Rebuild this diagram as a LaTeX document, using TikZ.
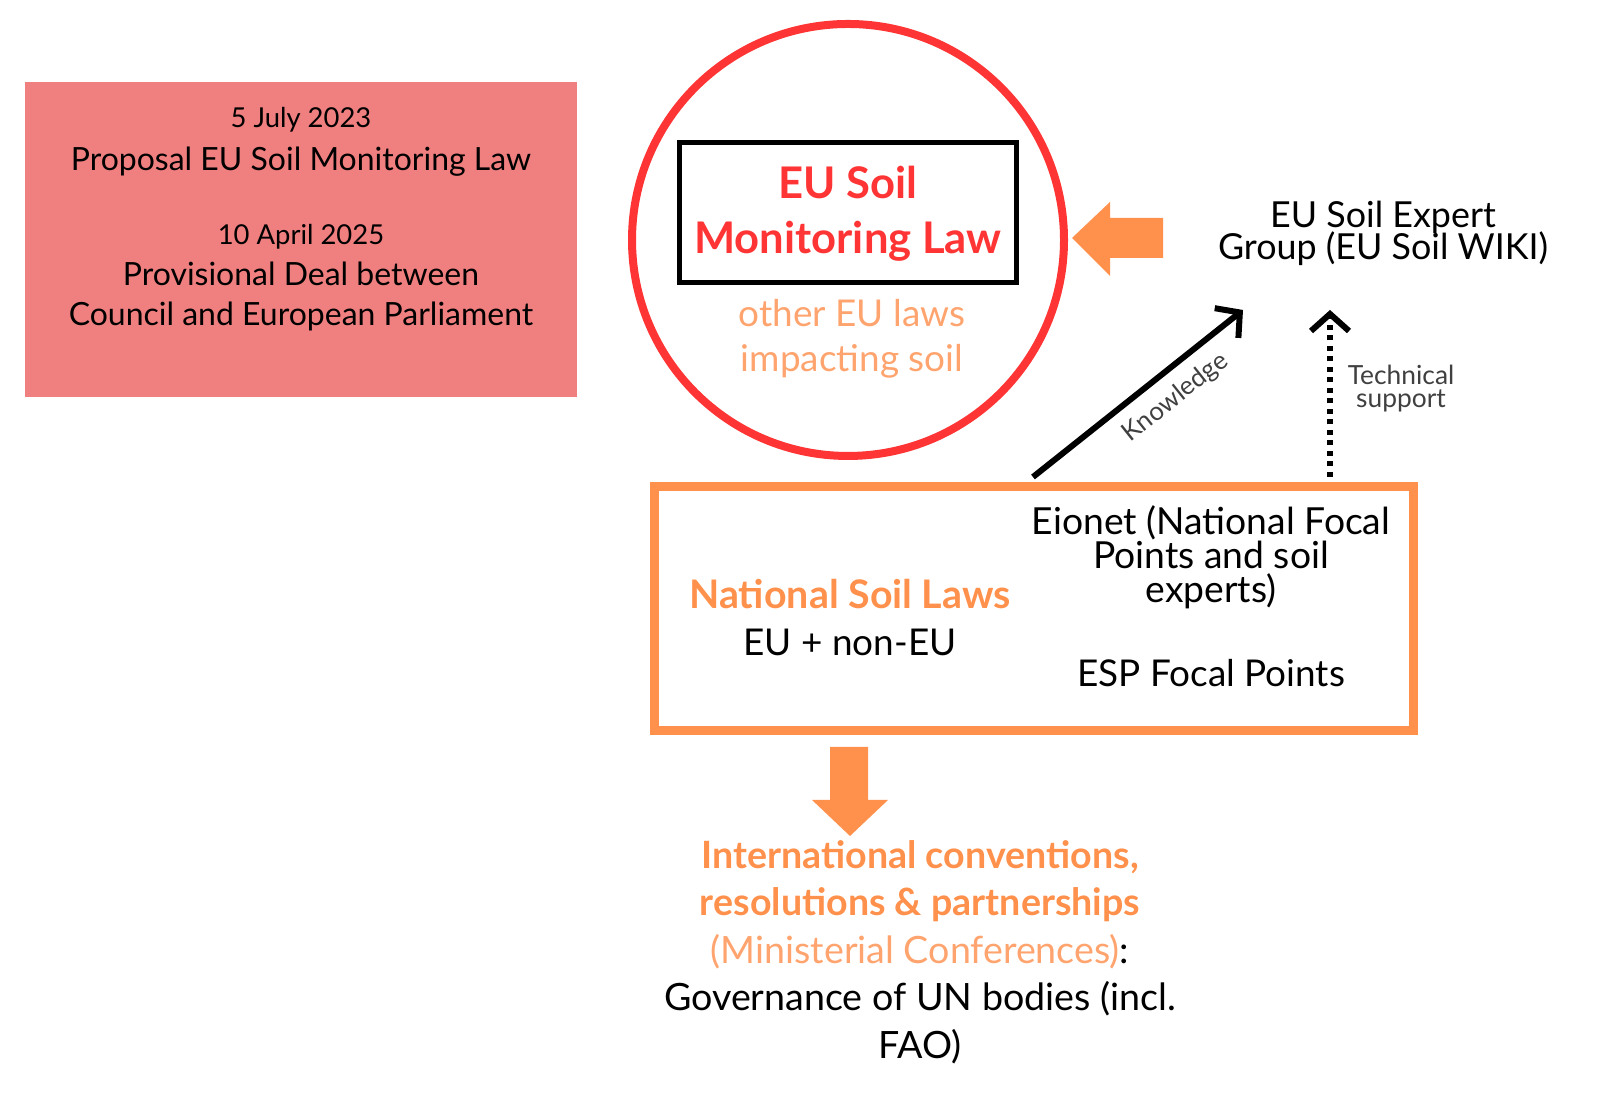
\documentclass[tikz,border=0pt]{standalone}
\usepackage{fontspec}
\setmainfont{Lato}
\usetikzlibrary{arrows.meta}

\definecolor{boxred}{HTML}{F07F7F}
\definecolor{ringred}{HTML}{FF3434}
\definecolor{soilorange}{HTML}{FF914D}
\definecolor{paleorange}{HTML}{FFA46E}

\begin{document}
\begin{tikzpicture}
	[
	align=center,
	node/.style={inner sep=0pt},
	frame/.style={node, draw, minimum width=#1},
	arr/.style={line width=0.06cm, -{Straight Barb[length=1.7mm, width=3.8mm, line width=0.06cm]}},
	blockarrow/.style={fill=soilorange, draw=none},
	]
		\useasboundingbox (0,0) rectangle (16,11.04);
		
		% timeline
		\node[frame=5.52cm, fill=boxred, draw=none, minimum height=3.15cm] (timeline) at ( 3.01, 8.645) {};
		\node[node, font=\fontsize{9.1}{12.3}\selectfont] (proposal) at ( 3.01, 9.62) {{\fontsize{7.8}{9}\selectfont 5 July 2023}\\Proposal EU Soil Monitoring Law};
		\node[node, font=\fontsize{9.1}{11.5}\selectfont] (deal) at ( 3.01, 8.26) {{\fontsize{7.8}{9}\selectfont 10 April 2025}\\Provisional Deal between\\Council and European Parliament};
		
		% soil monitoring law
		\node[node, circle, draw=ringred, line width=0.08cm, minimum size=4.32cm] (ring) at ( 8.48, 8.64) {};
		\node[frame=3.37cm, line width=0.05cm, minimum height=1.40cm] (lawbox) at ( 8.48, 8.915) {};
		\node[node, text=ringred, font=\bfseries\fontsize{12.4}{15.8}\selectfont] (law) at ( 8.48, 8.90) {EU Soil\\Monitoring Law};
		\node[node, text=paleorange, font=\fontsize{10.5}{12.8}\selectfont] (other) at ( 8.52, 7.655) {other EU laws\\impacting soil};
		
		% expert group
		\node[node, font=\fontsize{10.2}{9.5}\selectfont] (expert) at (13.83, 8.71) {EU Soil Expert\\[-1.6pt]Group (EU Soil WIKI)};
		\fill[blockarrow] (11.63, 8.86) -- (11.10, 8.86) -- (11.10, 9.02) -- (10.72, 8.66)
			-- (11.10, 8.28) -- (11.10, 8.46) -- (11.63, 8.46) -- cycle;
		
		% national level
		\node[frame=7.59cm, draw=soilorange, line width=0.09cm, minimum height=2.44cm] (natbox) at (10.335, 4.95) {};
		\node[node, text=soilorange, font=\bfseries\fontsize{11.2}{13}\selectfont] (natlaws) at ( 8.50, 5.10) {National Soil Laws};
		\node[node, font=\fontsize{10.5}{12}\selectfont] (noneu) at ( 8.50, 4.62) {EU + non-EU};
		\node[node, font=\fontsize{10.6}{9.7}\selectfont] (eionet) at (12.11, 5.47) {Eionet (National Focal\\Points and soil\\experts)};
		\node[node, font=\fontsize{10.5}{12}\selectfont] (esp) at (12.11, 4.31) {ESP Focal Points};
		
		% links to expert group
		\coordinate (kfrom) at (10.33, 6.27);
		\coordinate (kto)   at (12.43, 7.94);
		\coordinate (tfrom) at (13.30, 6.27);
		\coordinate (tto)   at (13.30, 7.94);
		\draw[arr] (kfrom) -- (kto) node[node, pos=0.6, sloped, below=0.12cm, font=\fontsize{7.3}{8}\selectfont, text=black!75] (know) {Knowledge};
		\draw[arr, dash pattern=on 0.05cm off 0.055cm] (tfrom) -- (tto);
		\node[node, font=\fontsize{7.5}{7.1}\selectfont, text=black!75] (tech) at (14.01, 7.15) {Technical\\[-0.6pt]support};
		
		% international level
		\fill[blockarrow] (8.30, 3.57) -- (8.68, 3.57) -- (8.68, 3.04) -- (8.88, 3.04) -- (8.50, 2.68)
			-- (8.12, 3.04) -- (8.30, 3.04) -- cycle;
		\node[node, font=\fontsize{10.7}{13.5}\selectfont] (intl) at ( 9.20, 1.52)
			{\textcolor{soilorange}{\bfseries International conventions,}\\
			 \textcolor{soilorange}{\bfseries resolutions \& partnerships}\\
			 \textcolor{paleorange}{(Ministerial Conferences)}:\\
			 Governance of UN bodies (incl.\\FAO)};
		
	\end{tikzpicture}
\end{document}
